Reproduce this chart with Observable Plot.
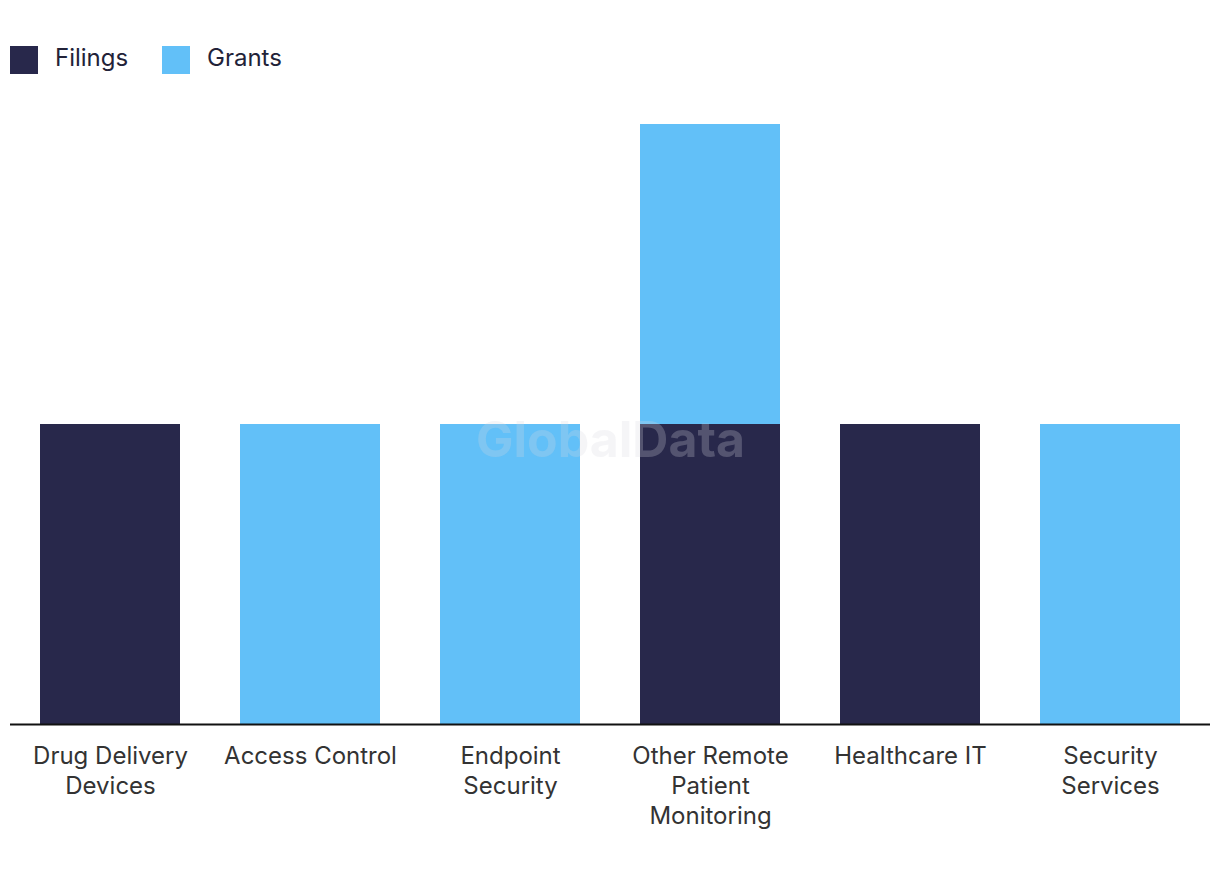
<!DOCTYPE html>
<html>
<head>
<meta charset="utf-8">
<script src="https://cdn.jsdelivr.net/npm/d3@7"></script>
<script src="https://cdn.jsdelivr.net/npm/@observablehq/plot@0.6"></script>
<style>
  body { margin: 0; background: #fff; font-family: Inter, "Noto Sans", sans-serif; }
  #legend { height: 100px; position: relative; }
  .item { position: absolute; top: 46px; display: flex; align-items: center; font-size: 24px; color: #222238; line-height: 28px; }
  .sw { width: 28px; height: 28px; margin-right: 17px; }
</style>
</head>
<body>
<div id="legend"></div>
<div id="chart"></div>
<script>
const categories = ["Drug Delivery\nDevices", "Access Control", "Endpoint\nSecurity", "Other Remote\nPatient\nMonitoring", "Healthcare IT", "Security\nServices"];
const filings = [1, 0, 0, 1, 1, 0];
const grants = [0, 1, 1, 1, 0, 1];
const seriesNames = ["Filings", "Grants"];
const seriesColors = ["#28284b", "#62c0f8"];

const legend = document.getElementById("legend");
const lefts = [10, 162];
seriesNames.forEach((s, i) => {
  const d = document.createElement("div");
  d.className = "item";
  d.style.left = lefts[i] + "px";
  d.innerHTML = `<span class="sw" style="background:${seriesColors[i]}"></span><span style="position:relative;top:-2px">${s}</span>`;
  legend.appendChild(d);
});

const data = [];
categories.forEach((c, i) => {
  data.push({category: c, series: "Filings", value: filings[i]});
  data.push({category: c, series: "Grants", value: grants[i]});
});

const chart = Plot.plot({
  width: 1220,
  height: 780,
  marginTop: 24,
  marginBottom: 156,
  marginLeft: 10,
  marginRight: 10,
  style: {fontFamily: "Inter, 'Noto Sans', sans-serif", background: "#fff"},
  x: {domain: categories, paddingInner: 0.3, paddingOuter: 0.15, label: null},
  y: {domain: [0, 2], axis: null},
  color: {domain: seriesNames, range: seriesColors},
  marks: [
    Plot.barY(data, Plot.stackY({x: "category", y: "value", fill: "series", order: seriesNames})),
    Plot.axisX({tickSize: 0, tickPadding: 18, fontSize: 24, lineHeight: 1.25, fill: "#333", label: null}),
    Plot.ruleY([0], {stroke: "#111", strokeWidth: 2}),
    Plot.text(["GlobalData"], {frameAnchor: "middle", dy: 16, fontSize: 50, fontWeight: "bold", fill: "#d8d8e0", fillOpacity: 0.25})
  ]
});
document.getElementById("chart").appendChild(chart);
</script>
</body>
</html>
